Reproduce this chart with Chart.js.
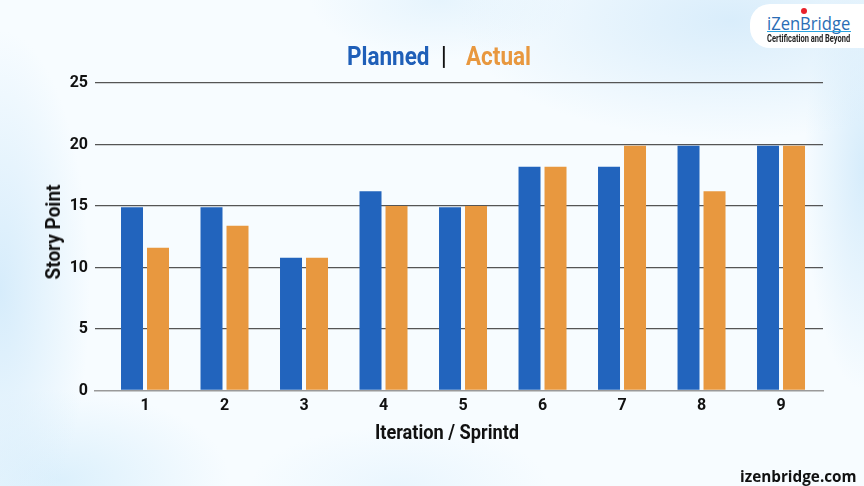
<!DOCTYPE html>
<html>
<head>
<meta charset="utf-8">
<title>Planned vs Actual</title>
<script src="https://cdn.jsdelivr.net/npm/chart.js@4"></script>
<style>
  html, body { margin: 0; padding: 0; }
  #wrap {
    position: relative; width: 864px; height: 486px; overflow: hidden;
    background:
      radial-gradient(ellipse 90px 260px at 0px 290px, #d6ecfb 0%, rgba(214,236,251,0) 100%),
      radial-gradient(ellipse 170px 90px at 60px 480px, #dcf0fc 0%, rgba(220,240,252,0) 100%),
      radial-gradient(ellipse 270px 120px at 730px 20px, #d9edfb 0%, rgba(217,237,251,0) 100%),
      radial-gradient(ellipse 60px 220px at 864px 170px, #d6ecfb 0%, rgba(214,236,251,0) 100%),
      radial-gradient(ellipse 130px 60px at 440px 0px, #e6f4fd 0%, rgba(230,244,253,0) 100%),
      radial-gradient(ellipse 150px 60px at 400px 486px, #eaf6fe 0%, rgba(234,246,254,0) 100%),
      #f7fcff;
  }
  canvas { position: absolute; left: 0; top: 0; }
  .txt { position: absolute; white-space: nowrap; transform-origin: left top; }
  .title { top: 42px; font: bold 25px Roboto, sans-serif; line-height: 30px; transform: scaleX(0.9); }
  .axis { font: bold 20px Roboto, sans-serif; line-height: 24px; color: #111; transform-origin: center center; }
  .xtitle { left: 447px; top: 432px; transform: translate(-50%, -50%) scaleX(0.91); }
  .ytitle { left: 53px; top: 232px; transform: translate(-50%, -50%) rotate(-90deg) scaleX(0.95); }
  .logo {
    position: absolute; left: 750px; top: 4px; width: 114px; height: 44px;
    background: #fff; border-radius: 20px 0 0 20px;
  }
  .logo .dot { position: absolute; left: 51px; top: 4px; width: 6px; height: 6px; border-radius: 50%; background: #e8202a; }
  .logo .line { position: absolute; left: 17px; top: 27px; width: 84px; height: 1px; background: #29a3e0; }
  .logo .name { left: 17px; top: 8px; font: 18px "Open Sans", sans-serif; line-height: 22px; color: #2a6db5; transform: scaleX(0.92); }
  .logo .sub { left: 17px; top: 29px; font: bold 10px Roboto, sans-serif; line-height: 11px; color: #222; transform: scaleX(0.75); }
  .site { left: 740px; top: 466px; font: bold 15.3px "Open Sans", sans-serif; line-height: 20px; color: #111; }
</style>
</head>
<body>
<div id="wrap">
  <canvas id="chart" width="864" height="486"></canvas>
  <div class="txt title" style="left:347px;color:#1f5fb8">Planned</div>
  <div class="txt title" style="left:441px;color:#111">|</div>
  <div class="txt title" style="left:466px;color:#e8983f">Actual</div>
  <div class="txt axis xtitle">Iteration / Sprintd</div>
  <div class="txt axis ytitle">Story Point</div>
  <div class="logo">
    <div class="dot"></div>
    <div class="txt name">iZenBridge</div>
    <div class="line"></div>
    <div class="txt sub">Certification and Beyond</div>
  </div>
  <div class="txt site">izenbridge.com</div>
</div>
<script>
// Values
const iterations = [1, 2, 3, 4, 5, 6, 7, 8, 9];
const planned = [14.9, 14.9, 10.8, 16.2, 14.9, 18.2, 18.2, 19.9, 19.9];
const actual = [11.6, 13.4, 10.8, 15, 15, 18.2, 19.9, 16.2, 19.9];

const labelFont = 'Roboto, sans-serif';

function toPoints(values) {
    return values.map((v, i) => ({ x: iterations[i], y: v }));
}

new Chart(document.getElementById('chart').getContext('2d'), {
    type: 'bar',
    data: {
        datasets: [
            { label: 'Planned', data: toPoints(planned), backgroundColor: '#2264bd', categoryPercentage: 0.654, barPercentage: 0.846 },
            { label: 'Actual', data: toPoints(actual), backgroundColor: '#e8983f', categoryPercentage: 0.654, barPercentage: 0.846 }
        ]
    },
    options: {
        responsive: false,
        animation: false,
        layout: { padding: { top: 83, right: 41, left: 0, bottom: 0 } },
        plugins: { legend: { display: false }, tooltip: { enabled: false } },
        scales: {
            x: {
                type: 'linear',
                offset: false,
                min: 0.371,
                max: 9.528,
                afterFit: function (scale) { scale.height = 95.5; },
                grid: { display: false, drawTicks: false },
                border: { color: '#9a9a9a', width: 1.5 },
                ticks: {
                    stepSize: 1,
                    includeBounds: false,
                    color: '#111',
                    padding: 6,
                    font: { family: labelFont, weight: 'bold', size: 16 },
                    callback: function (value) { return iterations.includes(value) ? value : ''; }
                }
            },
            y: {
                min: 0,
                max: 25,
                afterFit: function (scale) { scale.width = 95; },
                grid: {
                    color: function (c) { return c.tick.value === 0 ? 'rgba(0,0,0,0)' : '#555'; },
                    lineWidth: 1.3,
                    drawTicks: false
                },
                border: { display: false },
                ticks: {
                    stepSize: 5,
                    color: '#111',
                    padding: 7,
                    font: { family: labelFont, weight: 'bold', size: 16 }
                }
            }
        }
    }
});
</script>
</body>
</html>
